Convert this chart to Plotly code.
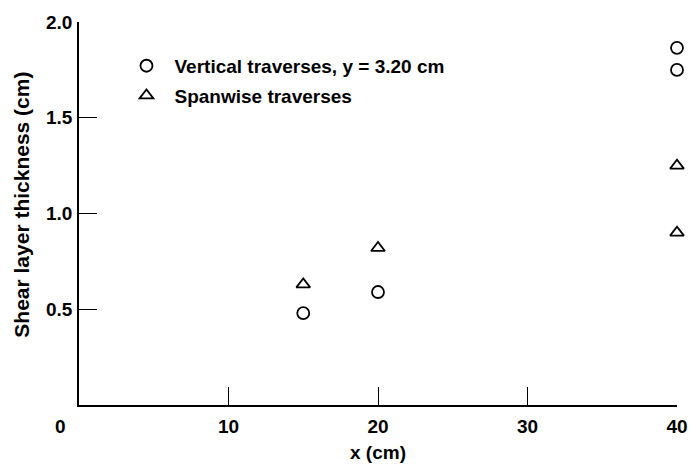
import plotly.graph_objects as go

# Shear layer thickness measured at several streamwise stations
vert_x = [15, 20, 40, 40]
vert_thickness = [0.48, 0.59, 1.75, 1.865]

span_x = [15, 20, 40, 40]
span_thickness = [0.63, 0.82, 0.90, 1.25]

x_ticks = [10, 20, 30, 40]
y_ticks = [0.5, 1.0, 1.5, 2.0]

FONT = "Liberation Sans, Arial, sans-serif"
INK = "black"

fig = go.Figure()

fig.add_trace(go.Scatter(
    x=vert_x, y=vert_thickness, mode="markers",
    name="Vertical traverses, y = 3.20 cm",
    legendgroup="a",
    marker=dict(symbol="circle-open", size=12, color=INK, line=dict(width=1.8, color=INK)),
    cliponaxis=False,
))
fig.add_trace(go.Scatter(
    x=span_x, y=span_thickness, mode="markers",
    name="Spanwise traverses",
    legendgroup="b",
    marker=dict(symbol="triangle-up-open", size=12, color=INK, line=dict(width=1.8, color=INK)),
    cliponaxis=False,
))

axis_common = dict(
    showline=True, linecolor=INK, linewidth=1.6,
    ticks="inside", ticklen=18, tickwidth=1.4, tickcolor=INK,
    showgrid=False, zeroline=False,
    tickfont=dict(family=FONT, size=19, color=INK, weight="bold"),
)

fig.update_layout(
    width=700, height=472,
    margin=dict(l=79, r=17, t=19, b=67),
    paper_bgcolor="white", plot_bgcolor="white",
    showlegend=True,
    legend=dict(
        x=0.066, y=0.935, xanchor="left", yanchor="top",
        font=dict(family=FONT, size=19, color=INK, weight="bold"),
        itemwidth=46, tracegroupgap=2, bgcolor="rgba(0,0,0,0)",
    ),
    xaxis=dict(
        range=[0, 40], tickvals=x_ticks, ticktext=[str(v) for v in x_ticks],
        ticklabelstandoff=3,
        title=dict(text="x (cm)", font=dict(family=FONT, size=19, color=INK, weight="bold"), standoff=10),
        **axis_common,
    ),
    yaxis=dict(
        range=[0, 2.0], tickvals=y_ticks, tickformat=".1f",
        ticklabelstandoff=1,
        **axis_common,
    ),
    annotations=[
        dict(
            x=0, y=0, xref="x", yref="y", text="0", showarrow=False,
            xanchor="center", yanchor="top", xshift=-19, yshift=-9,
            font=dict(family=FONT, size=19, color=INK, weight="bold"),
        ),
        dict(
            x=0, y=0.523, xref="paper", yref="paper", text="Shear layer thickness (cm)",
            showarrow=False, textangle=-90, xanchor="center", yanchor="middle", xshift=-57,
            font=dict(family=FONT, size=21, color=INK, weight="bold"),
        ),
    ],
)

fig.write_html("out.html")
